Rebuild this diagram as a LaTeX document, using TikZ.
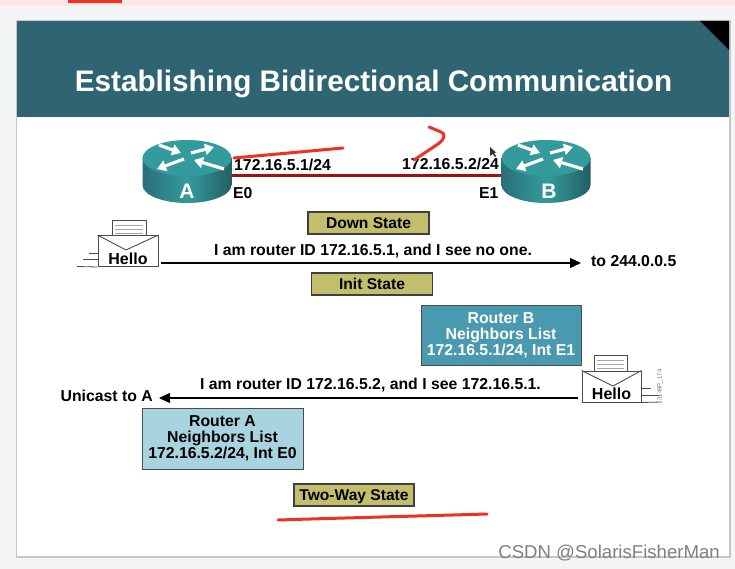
\documentclass[tikz,border=0pt]{standalone}
\usepackage{fontspec}
\setmainfont{Liberation Sans}
\usetikzlibrary{arrows.meta}

\tikzset{
    msgText/.style={font=\bfseries\fontsize{15.8}{17}\selectfont, inner sep=0pt},
    stateBox/.style={draw=black!75, line width=1.3pt, fill=stateColour, minimum width=121pt, minimum height=22pt, inner sep=0pt, text height=11pt, text depth=1pt, font=\bfseries\fontsize{15.6}{17}\selectfont},
    listBox/.style={draw=black!70, line width=1pt, minimum width=160pt, minimum height=60pt, inner sep=0pt, align=center, font=\bfseries\fontsize{15.8}{16}\selectfont},
    envBox/.style={draw=black!70, line width=1pt, fill=white, minimum width=60pt, minimum height=31pt, inner sep=0pt, text height=26pt, text depth=0pt, font=\bfseries\fontsize{16}{18}\selectfont},
    paperLine/.style={draw=black!35, line width=0.6pt},
    msgArrow/.style={draw=black, line width=1.3pt, -{Triangle[width=10pt,length=11pt]}},
    whiteArrow/.style={draw=white, line width=3.2pt, -{Triangle[width=11pt,length=9pt]}},
    redInk/.style={draw=inkColour, line width=3pt, line cap=round, line join=round},
    routerPic/.pic={
        \shade[left color=routerDark, right color=routerDark!85!black, middle color=routerTop]
            (-44.5,0) -- (-44.5,27) .. controls (-44.5,37) and (-24.6,45) .. (0,45)
            .. controls (24.6,45) and (44.5,37) .. (44.5,27) -- (44.5,0) -- cycle;
        \fill[routerTop] (0,0) ellipse [x radius=44.5pt, y radius=18pt];
        \draw[whiteArrow] (-28,-13) -- (-6,-5);
        \draw[whiteArrow] (4,-5) -- (27,-11);
        \draw[whiteArrow] (-3,1) -- (-30,11);
        \draw[whiteArrow] (37,11) -- (7,2);
    }
}

\begin{document}
\begin{tikzpicture}[x=1pt, y=-1pt]
    \definecolor{pageColour}{HTML}{F3F4F6}
    \definecolor{headerColour}{HTML}{2F6472}
    \definecolor{stateColour}{HTML}{C2BE6C}
    \definecolor{listColourB}{HTML}{4A9AAF}
    \definecolor{listColourA}{HTML}{A9D3DF}
    \definecolor{routerTop}{HTML}{339B9C}
    \definecolor{routerDark}{HTML}{2A6F78}
    \definecolor{linkColour}{HTML}{A01010}
    \definecolor{inkColour}{HTML}{EE3124}

    % Page and slide
    \useasboundingbox (0,0) rectangle (735,569);
    \fill[pageColour] (0,0) rectangle (735,569);
    \fill[red!10] (0,0) rectangle (735,6);
    \fill[inkColour] (68,0) rectangle (122,3);
    \fill[black!22] (16,20) rectangle (731,558);
    \fill[white] (17,21) rectangle (729,556);
    \fill[headerColour] (17,21) rectangle (729,117);
    \fill[black] (700,21) -- (729,21) -- (729,50) -- cycle;
    \node[inner sep=0pt, text=white, font=\bfseries\fontsize{29.7}{33}\selectfont] (slideTitle) at (373.5,84) {Establishing Bidirectional Communication};

    % Routers and link
    \node[minimum width=89pt, minimum height=54pt, inner sep=0pt] (routerA) at (187,176) {};
    \node[minimum width=89pt, minimum height=54pt, inner sep=0pt] (routerB) at (546,176) {};
    \draw[linkColour, line width=3pt] (routerA.east) -- (routerB.west);
    \pic at (187,158) {routerPic};
    \pic at (546,158) {routerPic};
    \node[text=white, inner sep=0pt, font=\bfseries\fontsize{21}{24}\selectfont] (labelA) at (187,191) {A};
    \node[text=white, inner sep=0pt, font=\bfseries\fontsize{21}{24}\selectfont] (labelB) at (549,191) {B};
    \node[msgText, anchor=west] (addrA) at (234,165) {172.16.5.1/24};
    \node[msgText, anchor=west] (addrB) at (402,164) {172.16.5.2/24};
    \node[msgText, anchor=west] (portA) at (233,193) {E0};
    \node[msgText, anchor=west] (portB) at (479,193) {E1};

    % State boxes
    \node[stateBox] (downState) at (368.5,223) {Down State};
    \node[stateBox] (initState) at (372,284) {Init State};
    \node[stateBox, minimum width=120pt] (twoWayState) at (354,495) {Two-Way State};

    % Hello from A
    \draw[draw=black!70, fill=white, line width=0.8pt] (112,220) rectangle (146,236);
    \foreach \y in {225,229,233}
        \draw[paperLine] (115,\y) -- (143,\y);
    \node[envBox] (helloA) at (128,251) {Hello};
    \draw[black!70, line width=0.9pt] (helloA.north west) -- (126,250) -- (helloA.north east);
    \draw[black!70, line width=0.8pt] (77,266.5) -- (helloA.south west);
    \draw[black!70, line width=0.8pt] (83,259) -- (98,259);
    \draw[black!70, line width=0.8pt] (89,253) -- (98,253);
    \coordinate (helloAout) at (161,263);
    \node[msgText, anchor=west, text depth=4pt] (toAll) at (591,263) {to 244.0.0.5};
    \draw[msgArrow, shorten >=10pt] (helloAout) -- (toAll.west);
    \node[msgText] (msgA) at (373,251) {I am router ID 172.16.5.1, and I see no one.};

    % Neighbor lists
    \node[listBox, fill=listColourB, text=white] (listB) at (501,335) {Router B\\Neighbors List\\172.16.5.1/24, Int E1};
    \node[listBox, fill=listColourA, minimum width=161pt, minimum height=61pt] (listA) at (222.5,438.5) {Router A\\Neighbors List\\172.16.5.2/24, Int E0};

    % Hello from B
    \draw[draw=black!70, fill=white, line width=0.8pt] (594,355) rectangle (627,371);
    \foreach \y in {360,364,368}
        \draw[paperLine] (597,\y) -- (624,\y);
    \node[envBox, minimum width=59pt] (helloB) at (611.5,386.5) {Hello};
    \draw[black!70, line width=0.9pt] (helloB.north west) -- (613,386) -- (helloB.north east);
    \draw[black!70, line width=0.8pt] (641,388) -- (651,388);
    \draw[black!70, line width=0.8pt] (641,395) -- (660,395);
    \draw[black!70, line width=0.8pt] (helloB.south east) -- (662,402);
    \node[rotate=90, text=black!55, inner sep=0pt, font=\fontsize{6}{7}\selectfont] (figCode) at (660,385) {3149P\_174};
    \coordinate (helloBout) at (578,398);
    \node[msgText, anchor=east, text depth=4pt] (toA) at (153,398) {Unicast to A};
    \draw[msgArrow, shorten >=6pt] (helloBout) -- (toA.east);
    \node[msgText] (msgB) at (370.5,384.5) {I am router ID 172.16.5.2, and I see 172.16.5.1.};

    % Red pen marks
    \draw[redInk] (414,160) -- (438,144) .. controls (445,139) and (446,134) .. (441,132) -- (429,127);
    \draw[redInk] (234,158) -- (343,148);
    \draw[redInk] (278,520) .. controls (340,518) and (420,516) .. (487,514);

    % Cursor and watermark
    \fill[black!80] (490,147) -- (490,156) -- (492.5,154) -- (495,157) -- (496,156) -- (494,153) -- (496,152.5) -- cycle;
    \node[text=black!50, inner sep=0pt, anchor=east, font=\fontsize{18.6}{20}\selectfont] (waterMark) at (720,553) {CSDN @SolarisFisherMan};
\end{tikzpicture}
\end{document}
